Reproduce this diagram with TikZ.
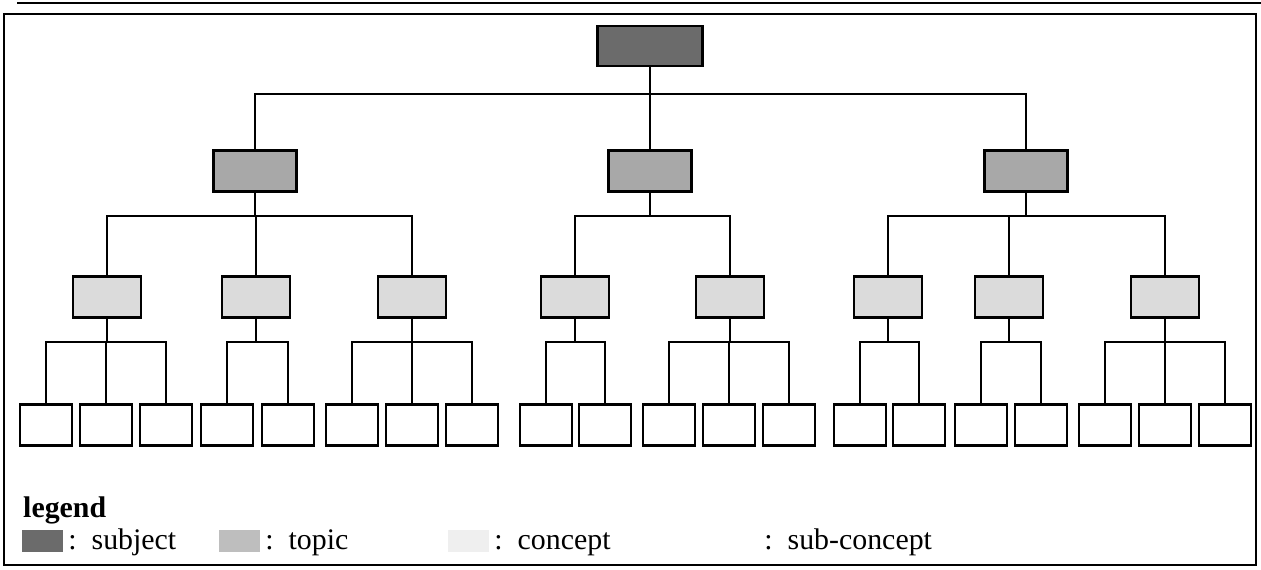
\documentclass[tikz,border=0pt]{standalone}
\usepackage{fontspec}
\setmainfont{Liberation Serif}
\usetikzlibrary{positioning}

\definecolor{subjectgray}{gray}{0.42}
\definecolor{topicgray}{gray}{0.66}
\definecolor{conceptgray}{gray}{0.86}

\tikzset{
  box/.style={draw, line width=1.2pt, inner sep=0pt, minimum height=0.82cm},
  subj/.style={box, fill=subjectgray, minimum width=2.1cm, minimum height=0.8cm},
  topic/.style={box, fill=topicgray, minimum width=1.66cm},
  concept/.style={box, fill=conceptgray, minimum width=1.36cm},
  subconcept/.style={box, fill=white, minimum width=1.04cm},
  swatch/.style={inner sep=0pt, minimum width=0.82cm, minimum height=0.44cm},
  swatchtext/.style={anchor=base west, inner xsep=2.5pt},
  link/.style={line width=0.85pt},
}

\begin{document}
\begin{tikzpicture}[x=0.02cm, y=-0.02cm, font=\fontsize{17}{20}\selectfont]
    \useasboundingbox (0,0) rectangle (1261,570);
    % frame
    \draw[line width=1pt] (17,3) -- (1261,3);
    \draw[line width=1pt] (4,14) rectangle (1256,565);

    % subject and topics
    \node[subj] (s) at (650,46) {};
    \node[topic] (t1) at (255,171) {};
    \node[topic] (t2) at (650,171) {};
    \node[topic] (t3) at (1026,171) {};

    % concepts
    \foreach \n/\x in {c1/107, c2/256, c3/412, c4/575, c5/730, c6/888, c7/1009, c8/1165}
        \node[concept] (\n) at (\x,297) {};

    % sub-concepts
    \foreach \n/\x in {l1/46, l2/106, l3/166, l4/227, l5/288, l6/352, l7/412, l8/472,
                       l9/546, l10/605, l11/669, l12/729, l13/789, l14/860, l15/919,
                       l16/981, l17/1041, l18/1105, l19/1165, l20/1225}
        \node[subconcept] (\n) at (\x,425) {};

    % bus lines
    \coordinate (b0) at (0,94);
    \coordinate (b1) at (0,216);
    \coordinate (b2) at (0,342);

    \foreach \c in {t1,t2,t3}
        \draw[link] (s.south) |- (\c.north |- b0) -- (\c.north);
    \foreach \p/\c in {t1/c1, t1/c2, t1/c3, t2/c4, t2/c5, t3/c6, t3/c7, t3/c8}
        \draw[link] (\p.south) |- (\c.north |- b1) -- (\c.north);
    \foreach \p/\c in {c1/l1, c1/l2, c1/l3, c2/l4, c2/l5, c3/l6, c3/l7, c3/l8,
                       c4/l9, c4/l10, c5/l11, c5/l12, c5/l13, c6/l14, c6/l15,
                       c7/l16, c7/l17, c8/l18, c8/l19, c8/l20}
        \draw[link] (\p.south) |- (\c.north |- b2) -- (\c.north);

    % legend
    \node[anchor=base west, font=\fontsize{17}{20}\selectfont\bfseries] (lg) at (17,518) {legend};
    \node[swatch, fill=subjectgray, anchor=west] (ls) at (22,541) {};
    \node[swatchtext] (lst) at ([yshift=1.5pt]ls.south east) {:\enspace subject};
    \node[swatch, fill=topicgray!75!white, anchor=west] (lt) at (219,541) {};
    \node[swatchtext] (ltt) at ([yshift=1.5pt]lt.south east) {:\enspace topic};
    \node[swatch, fill=conceptgray!45!white, anchor=west] (lc) at (448,541) {};
    \node[swatchtext] (lct) at ([yshift=1.5pt]lc.south east) {:\enspace concept};
    \node[swatch, fill=white, anchor=west] (lsc) at (718,541) {};
    \node[swatchtext] (lsct) at ([yshift=1.5pt]lsc.south east) {:\enspace sub-concept};
\end{tikzpicture}
\end{document}
